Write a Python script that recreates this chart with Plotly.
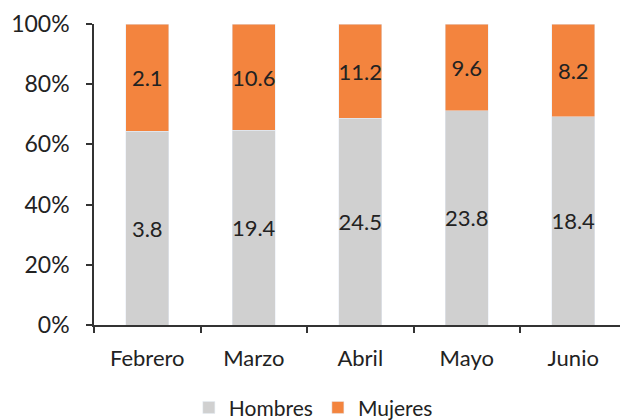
import plotly.graph_objects as go

months = ["Febrero", "Marzo", "Abril", "Mayo", "Junio"]
hombres = [3.8, 19.4, 24.5, 23.8, 18.4]
mujeres = [2.1, 10.6, 11.2, 9.6, 8.2]

tot = [h + m for h, m in zip(hombres, mujeres)]
h_pct = [h / t for h, t in zip(hombres, tot)]
m_pct = [m / t for m, t in zip(mujeres, tot)]

font = "Lato, 'Open Sans', sans-serif"
txtc = "#222222"

fig = go.Figure()
fig.add_bar(x=months, y=h_pct, name="Hombres", marker_color="#d0d0d0",
            text=[f"{v:.1f}" for v in hombres], textposition="inside", textangle=0,
            insidetextanchor="middle", textfont=dict(size=22, color=txtc),
            hoverinfo="skip")
fig.add_bar(x=months, y=m_pct, name="Mujeres", marker_color="#f3843e",
            text=[f"{v:.1f}" for v in mujeres], textposition="inside", textangle=0,
            insidetextanchor="middle", textfont=dict(size=22, color=txtc),
            hoverinfo="skip")

fig.update_layout(
    barmode="stack", bargap=0.6,
    width=620, height=420,
    margin=dict(l=94, r=0, t=24, b=95, autoexpand=False),
    paper_bgcolor="white", plot_bgcolor="white",
    font=dict(family=font, color=txtc),
    showlegend=True,
    legend=dict(orientation="h", x=0.417, xanchor="center", y=-0.275, yanchor="middle",
                font=dict(size=21, color=txtc), traceorder="normal", itemwidth=30),
    uniformtext=dict(mode="show", minsize=22),
)
fig.update_xaxes(range=[-0.5, -0.5 + 526 / 106.5], showline=True, linecolor="#333333",
                 linewidth=1.5, ticks="outside", tickson="boundaries", ticklen=6,
                 tickcolor="#333333", tickwidth=1.5, tickfont=dict(size=22, color=txtc),
                 ticklabelstandoff=13, automargin=False,
                 showgrid=False, fixedrange=True)
fig.update_yaxes(range=[0, 1], dtick=0.2, tickformat=".0%", showline=True,
                 linecolor="#333333", linewidth=1.5, ticks="outside", ticklen=6,
                 tickcolor="#333333", tickwidth=1.5, tickfont=dict(size=23, color=txtc),
                 ticklabelstandoff=12, automargin=False,
                 showgrid=False, zeroline=False, fixedrange=True)

fig.write_html("out.html", config={"displayModeBar": False},
               post_script="document.body.style.margin='0';document.body.style.padding='0';")
